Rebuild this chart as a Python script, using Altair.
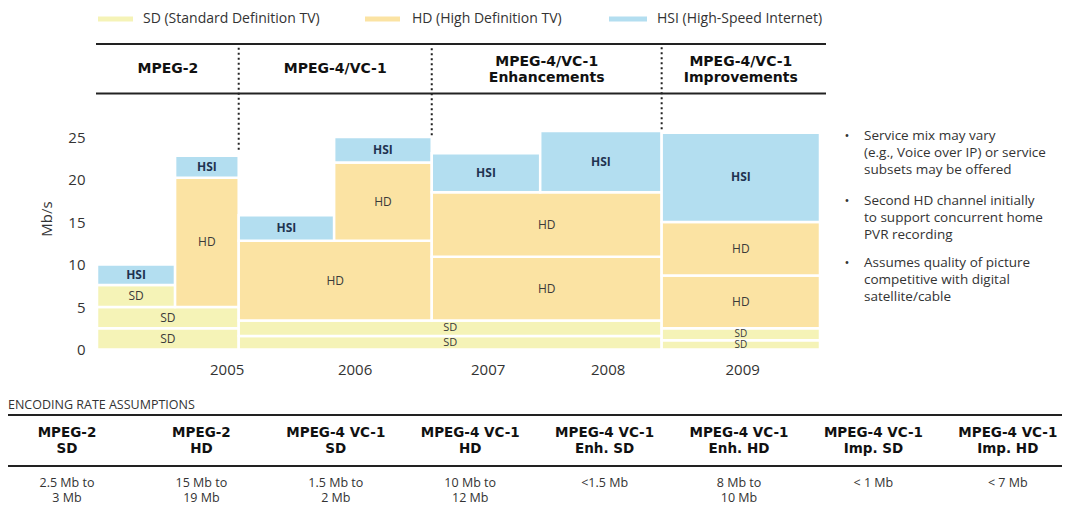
import altair as alt
import pandas as pd

# ---------------- data ----------------
services = ["SD", "SD", "SD", "HSI", "HD", "HSI",
            "SD", "SD", "HD", "HSI", "HD", "HSI", "HD", "HD", "HSI", "HSI",
            "SD", "SD", "HD", "HD", "HSI"]
x_start = [0, 0, 0, 0, 10.8, 10.8,
           19.6, 19.6, 19.6, 19.6, 32.8, 32.8, 46.3, 46.3, 46.3, 61.3,
           78.1, 78.1, 78.1, 78.1, 78.1]
x_end = [19.6, 19.6, 10.8, 10.8, 19.6, 19.6,
         78.1, 78.1, 46.3, 32.8, 46.3, 46.3, 78.1, 78.1, 61.3, 78.1,
         100, 100, 100, 100, 100]
rate_low = [0, 2.5, 5.0, 7.6, 5.0, 20.2,
            0, 1.6, 3.4, 12.8, 12.8, 22.0, 3.4, 10.9, 18.5, 18.5,
            0, 1.1, 2.5, 8.7, 15.0]
rate_high = [2.5, 5.0, 7.6, 10.0, 20.2, 22.8,
             1.6, 3.4, 12.8, 15.8, 22.0, 25.0, 10.9, 18.5, 23.1, 25.7,
             1.1, 2.5, 8.7, 15.0, 25.5]

years = ["2005", "2006", "2007", "2008", "2009"]
year_pos = [18.0, 35.7, 54.1, 70.7, 89.3]

period_labels = ["MPEG-2", "MPEG-4/VC-1", "MPEG-4/VC-1\nEnhancements", "MPEG-4/VC-1\nImprovements"]
period_start = [0, 19.6, 46.3, 78.1]
period_end = [19.6, 46.3, 78.1, 100]
separator_top = [23.5, 25.2, 25.9]

legend_keys = ["SD", "HD", "HSI"]
legend_labels = ["SD (Standard Definition TV)", "HD (High Definition TV)", "HSI (High-Speed Internet)"]

notes = ["Service mix may vary\n(e.g., Voice over IP) or service\nsubsets may be offered",
         "Second HD channel initially\nto support concurrent home\nPVR recording",
         "Assumes quality of picture\ncompetitive with digital\nsatellite/cable"]

table_title = "ENCODING RATE ASSUMPTIONS"
table_heads = ["MPEG-2\nSD", "MPEG-2\nHD", "MPEG-4 VC-1\nSD", "MPEG-4 VC-1\nHD",
               "MPEG-4 VC-1\nEnh. SD", "MPEG-4 VC-1\nEnh. HD", "MPEG-4 VC-1\nImp. SD", "MPEG-4 VC-1\nImp. HD"]
table_values = ["2.5 Mb to\n3 Mb", "15 Mb to\n19 Mb", "1.5 Mb to\n2 Mb", "10 Mb to\n12 Mb",
                "<1.5 Mb", "8 Mb to\n10 Mb", "< 1 Mb", "< 7 Mb"]

# ---------------- chart ----------------
FONT = "Open Sans"
BOLD = "DejaVu Sans"
TXT = "#333333"

seg = pd.DataFrame(dict(service=services, x0=x_start, x1=x_end, y0=rate_low, y1=rate_high))
xs = alt.Scale(domain=[0, 100], nice=False, zero=False)
ys = alt.Scale(domain=[0, 26], nice=False, zero=False)
yaxis = alt.Axis(values=[0, 5, 10, 15, 20, 25], domain=False, ticks=False, grid=False,
                 labelFont=FONT, labelFontSize=15, labelColor=TXT, labelPadding=12,
                 title="Mb/s", titleFont=FONT, titleFontSize=15, titleFontWeight="normal",
                 titleColor=TXT, titlePadding=13, titleY=90)
color = alt.Color("service:N",
                  scale=alt.Scale(domain=["SD", "HD", "HSI"], range=["#f5f3b7", "#fbe3a3", "#b3def0"]),
                  legend=None)

bars = alt.Chart(seg).mark_rect(stroke="white", strokeWidth=2.5).encode(
    x=alt.X("x0:Q", scale=xs, axis=None),
    x2="x1:Q",
    y=alt.Y("y0:Q", scale=ys, axis=yaxis),
    y2="y1:Q",
    color=color,
)

lab_base = alt.Chart(seg).transform_calculate(
    xm="(datum.x0 + datum.x1) / 2", ym="(datum.y0 + datum.y1) / 2",
    tall="datum.y1 - datum.y0")
lab_tv = lab_base.transform_filter("datum.service != 'HSI' && datum.tall >= 2").mark_text(
    font=FONT, fontSize=12, color="#3a3a3a").encode(
    x=alt.X("xm:Q", scale=xs, axis=None), y=alt.Y("ym:Q", scale=ys, axis=yaxis), text="service:N")
lab_mid = lab_base.transform_filter(
    "datum.service != 'HSI' && datum.tall < 2 && datum.tall >= 1.5").mark_text(
    font=FONT, fontSize=11, color="#3a3a3a").encode(
    x=alt.X("xm:Q", scale=xs, axis=None), y=alt.Y("ym:Q", scale=ys, axis=yaxis), text="service:N")
lab_thin = lab_base.transform_filter("datum.service != 'HSI' && datum.tall < 1.5").mark_text(
    font=FONT, fontSize=10, color="#3a3a3a").encode(
    x=alt.X("xm:Q", scale=xs, axis=None), y=alt.Y("ym:Q", scale=ys, axis=yaxis), text="service:N")
lab_hsi = lab_base.transform_filter("datum.service == 'HSI'").mark_text(
    font=FONT, fontSize=12, fontWeight="bold", color="#1f3350").encode(
    x=alt.X("xm:Q", scale=xs, axis=None), y=alt.Y("ym:Q", scale=ys, axis=yaxis), text="service:N")

year_df = pd.DataFrame(dict(year=years, pos=year_pos))
year_text = alt.Chart(year_df).mark_text(font=FONT, fontSize=15, color=TXT).encode(
    x=alt.X("pos:Q", scale=xs, axis=None), y=alt.value(241.5), text="year:N")

per = pd.DataFrame(dict(label=period_labels, s=period_start, e=period_end))
per["lines"] = per["label"].str.count("\n") + 1
per_base = alt.Chart(per).transform_calculate(mid="(datum.s + datum.e) / 2")
per_one = per_base.transform_filter("datum.lines == 1").mark_text(
    font=BOLD, fontWeight="bold", fontSize=14, color="#111111").encode(
    x=alt.X("mid:Q", scale=xs, axis=None), y=alt.value(-59.5), text="label:N")
per_two = per_base.transform_filter("datum.lines == 2").mark_text(
    font=BOLD, fontWeight="bold", fontSize=14, color="#111111", lineBreak="\n", lineHeight=16).encode(
    x=alt.X("mid:Q", scale=xs, axis=None), y=alt.value(-67), text="label:N")

sep = pd.DataFrame(dict(pos=period_start[1:], top=separator_top))
separators = alt.Chart(sep).mark_rule(strokeDash=[2, 3], strokeWidth=2, color="#222222").encode(
    x=alt.X("pos:Q", scale=xs, axis=None), y=alt.Y("top:Q", scale=ys, axis=yaxis), y2=alt.value(-81.5))

one = pd.DataFrame({"k": [0]})


def hline(y, x1, x2, w=2):
    return alt.Chart(one).mark_rule(color="#222222", strokeWidth=w).encode(
        x=alt.value(x1), x2=alt.value(x2), y=alt.value(y))


layers = [bars, lab_tv, lab_mid, lab_thin, lab_hsi, year_text, separators, per_one, per_two,
          hline(-84.5, -1, 729), hline(-35, -1, 729)]

# legend (manual, top row)
swatch_x = [(1, 36), (268, 303), (512, 550)]
text_x = [46, 315, 560]
for key, lab, (a, b), tx in zip(legend_keys, legend_labels, swatch_x, text_x):
    d = pd.DataFrame({"service": [key], "label": [lab]})
    layers.append(alt.Chart(d).mark_rect().encode(
        x=alt.value(a), x2=alt.value(b), y=alt.value(-112), y2=alt.value(-107), color=color))
    layers.append(alt.Chart(d).mark_text(font=FONT, fontSize=14, color=TXT, align="left").encode(
        x=alt.value(tx), y=alt.value(-109.5), text="label:N"))

# side notes
note_y = [7, 72.5, 134.5]
for txt, ny in zip(notes, note_y):
    d = pd.DataFrame({"t": [txt]})
    layers.append(alt.Chart(d).mark_text(font=FONT, fontSize=13.5, color=TXT, align="left",
                                         lineBreak="\n", lineHeight=17).encode(
        x=alt.value(767), y=alt.value(ny), text="t:N"))
    layers.append(alt.Chart(one).mark_text(font=FONT, fontSize=13, color=TXT).encode(
        x=alt.value(750), y=alt.value(ny), text=alt.value("•")))

# table
layers.append(alt.Chart(pd.DataFrame({"t": [table_title]})).mark_text(
    font=FONT, fontSize=12.5, color=TXT, align="left").encode(
    x=alt.value(-89), y=alt.value(276.5), text="t:N"))
layers += [hline(286.5, -89, 971), hline(337.5, -89, 971), hline(383.5, -89, 971)]
tbl = pd.DataFrame(dict(head=table_heads, val=table_values, i=list(range(len(table_heads)))))
tbase = alt.Chart(tbl).transform_calculate(px="-30 + datum.i * 134.4")
layers.append(tbase.mark_text(font=BOLD, fontWeight="bold", fontSize=13.5, color="#111111",
                              lineBreak="\n", lineHeight=15.5).encode(
    x=alt.X("px:Q", scale=None), y=alt.value(304.5), text="head:N"))
layers.append(tbase.mark_text(font=FONT, fontSize=12.5, color=TXT, lineBreak="\n", lineHeight=15).encode(
    x=alt.X("px:Q", scale=None), y=alt.value(354), text="val:N"))

chart = alt.layer(*layers).properties(
    width=723, height=221,
    autosize=alt.AutoSizeParams(type="none"),
    padding={"left": 89, "top": 120.5, "right": 242, "bottom": 158.5},
    background="white",
).configure_view(stroke=None)

chart.save("out.html", embed_options={"renderer": "svg", "actions": False})
